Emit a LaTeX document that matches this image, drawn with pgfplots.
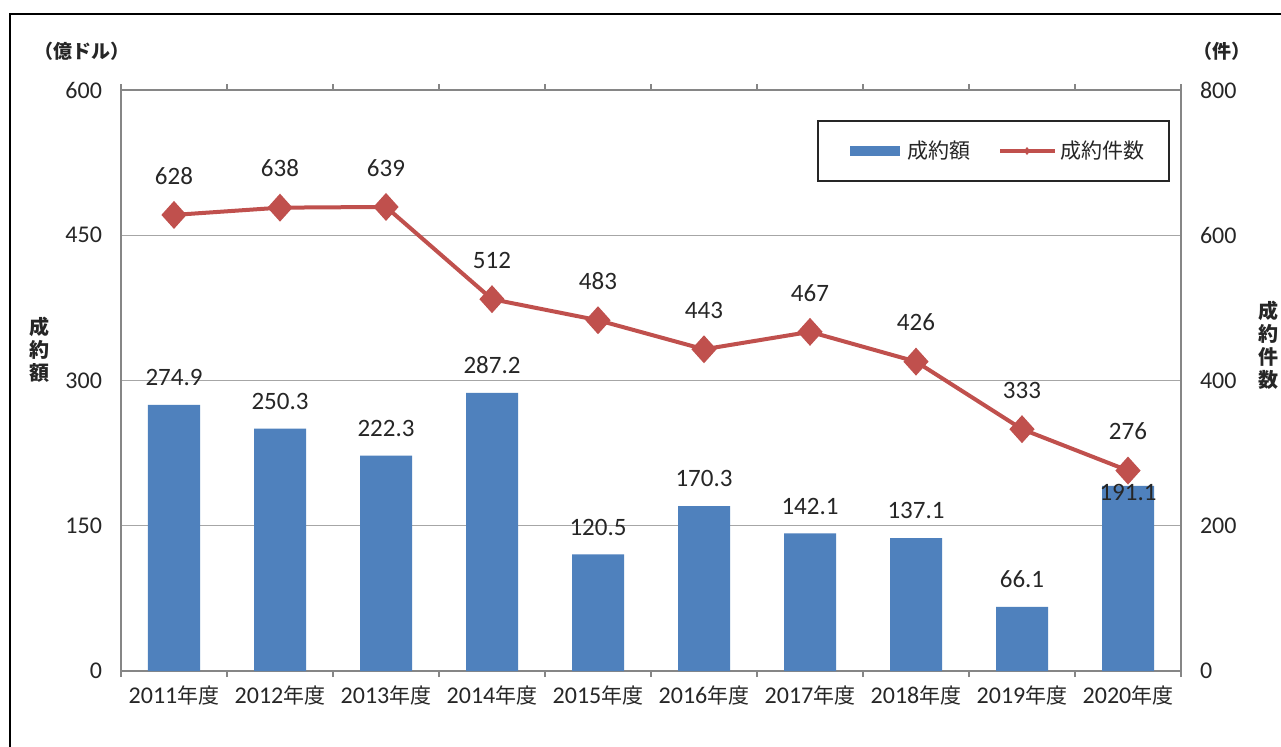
\documentclass[border=0pt]{standalone}
\usepackage{pgfplots}
\usepackage{pgfplotstable}
\pgfplotsset{compat=1.18}
\usepackage{fontspec}
\setmainfont{Carlito}
\newfontfamily\cjk{Noto Sans CJK JP}
\definecolor{barblue}{HTML}{4F81BD}
\definecolor{linered}{HTML}{C0504D}
\definecolor{axgray}{HTML}{868686}
\definecolor{gridgray}{HTML}{A6A6A6}
\definecolor{txt}{HTML}{262626}
\newcommand{\nd}{{\cjk\fontsize{10.5}{12}\selectfont 年度}}
\pgfplotstableread{
x amount shift
0 274.9 6
1 250.3 6
2 222.3 6
3 287.2 6
4 120.5 6
5 170.3 6
6 142.1 6
7 137.1 6
8 66.1 6
9 191.1 -11
}\amounts
\pgfplotstableread{
x count
0 628
1 638
2 639
3 512
4 483
5 443
6 467
7 426
8 333
9 276
}\counts
\begin{document}
\begin{tikzpicture}
\useasboundingbox (-60.5pt,-37.5pt) rectangle (580pt,335.5pt);
\fill[white] (-60.5pt,-37.5pt) rectangle (580pt,335.5pt);
\draw[black, line width=1pt] (-55.5pt,-45pt) -- (-55.5pt,328.5pt) -- (590pt,328.5pt);
\begin{axis}[
  at={(0pt,0pt)}, anchor=south west,
  scale only axis, width=530pt, height=290.5pt,
  xmin=-0.5, xmax=9.5, ymin=0, ymax=600,
  ytick={0,150,300,450,600},
  xtick={0,...,9},
  xticklabels={2011\nd,2012\nd,2013\nd,2014\nd,2015\nd,2016\nd,2017\nd,2018\nd,2019\nd,2020\nd},
  minor xtick={-0.5,0.5,...,9.5},
  major tick length=0pt, minor tick length=3pt,
  tick align=outside,
  tick style={axgray, line width=0.6pt},
  ymajorgrids, grid style={gridgray, line width=0.5pt},
  axis line style={axgray, line width=0.6pt},
  tick label style={font=\fontsize{12}{14}\selectfont, text=txt},
  /pgf/number format/assume math mode=true,
  yticklabel style={xshift=-6pt},
  xticklabel style={yshift=-4pt},
  ybar, bar width=26pt,
  clip=false,
]
\addplot[fill=barblue, draw=none,
  visualization depends on={\thisrow{shift} \as \myshift},
  nodes near coords={\pgfmathprintnumber[fixed,fixed zerofill,precision=1,assume math mode=true]{\pgfplotspointmeta}},
  nodes near coords style={font=\fontsize{12.5}{14}\selectfont, text=txt, yshift=\myshift pt}]
  table[x=x, y=amount] {\amounts};
\end{axis}
\begin{axis}[
  at={(0pt,0pt)}, anchor=south west,
  scale only axis, width=530pt, height=290.5pt,
  xmin=-0.5, xmax=9.5, ymin=0, ymax=800,
  ytick={0,200,400,600,800},
  axis y line*=right, axis x line=none,
  major tick length=0pt,
  axis line style={axgray, line width=0.6pt},
  tick label style={font=\fontsize{12}{14}\selectfont, text=txt},
  /pgf/number format/assume math mode=true,
  yticklabel style={xshift=6pt},
  clip=false,
]
\addplot[linered, line width=2pt, mark=diamond*, mark size=5.5pt, mark options={xscale=1.2, solid},
  nodes near coords={\pgfmathprintnumber[fixed,precision=0,assume math mode=true]{\pgfplotspointmeta}},
  nodes near coords style={font=\fontsize{12.5}{14}\selectfont, text=txt, yshift=11pt}]
  table[x=x, y=count] {\counts};
\end{axis}
% legend
\draw[txt, line width=0.6pt, fill=white] (348.5pt,245pt) rectangle (524pt,275pt);
\fill[barblue] (364.5pt,257.5pt) rectangle (389.5pt,262.5pt);
\node[anchor=west, inner sep=0pt, text=txt, font=\cjk\fontsize{10.5}{12}\selectfont] at (393pt,260pt) {成約額};
\draw[linered, line width=2pt] (439.5pt,260pt) -- (467pt,260pt);
\fill[linered] (453pt,262pt) -- (454.6pt,260pt) -- (453pt,258pt) -- (451.4pt,260pt) -- cycle;
\node[anchor=west, inner sep=0pt, text=txt, font=\cjk\fontsize{10.5}{12}\selectfont] at (469.5pt,260pt) {成約件数};
% axis titles
\node[text=txt, font=\cjk\bfseries\fontsize{9.5}{11}\selectfont] at (-19.5pt,310pt) {（億ドル）};
\node[text=txt, font=\cjk\bfseries\fontsize{9.5}{11}\selectfont] at (550.5pt,310pt) {（件）};
\node[text=txt, align=center, font=\cjk\bfseries\fontsize{10}{11.5}\selectfont] at (-40.5pt,160.5pt) {成\\約\\額};
\node[text=txt, align=center, font=\cjk\bfseries\fontsize{10}{11.5}\selectfont] at (573.5pt,163pt) {成\\約\\件\\数};
\end{tikzpicture}
\end{document}
